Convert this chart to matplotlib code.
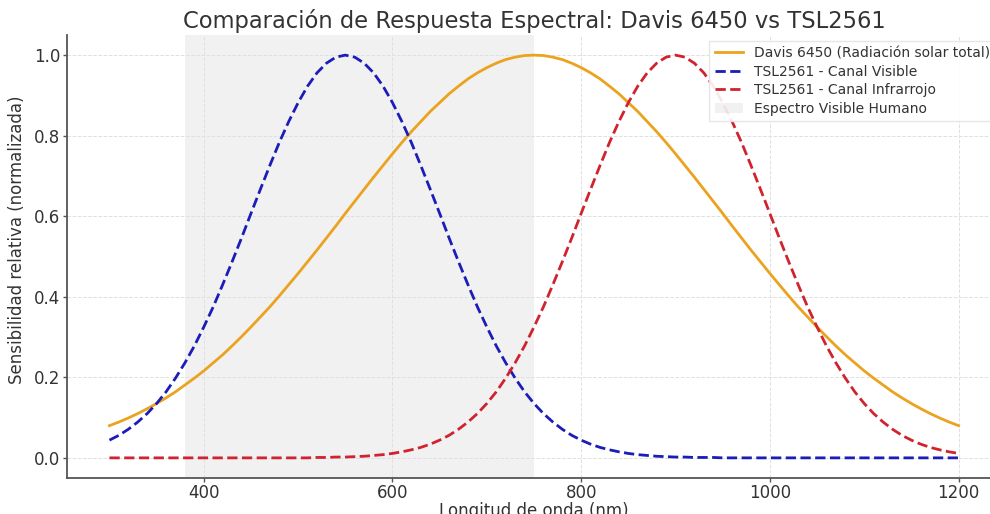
import matplotlib
matplotlib.use("Agg")
import matplotlib.pyplot as plt

# Wavelength grid (nm)
wavelength = list(range(300, 1201, 10))

# Davis 6450 pyranometer relative response (total solar radiation)
davis_half = [0.080, 0.089, 0.099, 0.110, 0.122, 0.135, 0.149, 0.164, 0.181, 0.198,
              0.216, 0.236, 0.256, 0.278, 0.301, 0.325, 0.350, 0.375, 0.402, 0.430,
              0.458, 0.487, 0.516, 0.546, 0.576, 0.607, 0.637, 0.667, 0.697, 0.726,
              0.755, 0.783, 0.810, 0.835, 0.860, 0.882, 0.904, 0.923, 0.941, 0.956,
              0.969, 0.980, 0.989, 0.995, 0.999]
davis_6450 = davis_half + [1.000] + davis_half[::-1]

# TSL2561 visible channel
tsl_visible = [0.044, 0.056, 0.071, 0.089, 0.110, 0.135, 0.164, 0.198, 0.236, 0.278,
               0.325, 0.375, 0.430, 0.487, 0.546, 0.607, 0.667, 0.726, 0.783, 0.835,
               0.882, 0.923, 0.956, 0.980, 0.995, 1.000,
               0.995, 0.980, 0.956, 0.923, 0.882, 0.835, 0.783, 0.726, 0.667, 0.607,
               0.546, 0.487, 0.430, 0.375, 0.325, 0.278, 0.236, 0.198, 0.164, 0.135,
               0.110, 0.089, 0.071, 0.056, 0.044, 0.034, 0.026, 0.020, 0.015, 0.011,
               0.008, 0.006, 0.004, 0.003, 0.002, 0.002, 0.001, 0.001, 0.001, 0.000,
               0.000, 0.000, 0.000, 0.000, 0.000, 0.000, 0.000, 0.000, 0.000, 0.000,
               0.000, 0.000, 0.000, 0.000, 0.000, 0.000, 0.000, 0.000, 0.000, 0.000,
               0.000, 0.000, 0.000, 0.000, 0.000]

# TSL2561 infrared channel
tsl_infrared = [0.000] * 20 + [
               0.000, 0.000, 0.001, 0.001, 0.002, 0.002, 0.003, 0.004, 0.006, 0.008,
               0.011, 0.015, 0.020, 0.026, 0.034, 0.044, 0.056, 0.071, 0.089, 0.110,
               0.135, 0.164, 0.198, 0.236, 0.278, 0.325, 0.375, 0.430, 0.487, 0.546,
               0.607, 0.667, 0.726, 0.783, 0.835, 0.882, 0.923, 0.956, 0.980, 0.995,
               1.000,
               0.995, 0.980, 0.956, 0.923, 0.882, 0.835, 0.783, 0.726, 0.667, 0.607,
               0.546, 0.487, 0.430, 0.375, 0.325, 0.278, 0.236, 0.198, 0.164, 0.135,
               0.110, 0.089, 0.071, 0.056, 0.044, 0.034, 0.026, 0.020, 0.015, 0.011]

visible_band = (380, 750)

x_ticks = [400, 600, 800, 1000, 1200]
y_ticks = [0.0, 0.2, 0.4, 0.6, 0.8, 1.0]

text_color = "#333333"
plt.rcParams["font.family"] = ["DejaVu Sans"]

fig = plt.figure(figsize=(9.9, 5.14), dpi=100)
ax = fig.add_axes([67 / 990, 36 / 514, (1001 - 67) / 990, (478 - 35) / 514])

ax.axvspan(*visible_band, color="lightgray", alpha=0.3, lw=0,
           label="Espectro Visible Humano", zorder=0)
ax.plot(wavelength, davis_6450, color="#eba31f", lw=2,
        label="Davis 6450 (Radiación solar total)")
ax.plot(wavelength, tsl_visible, color="#1c1cb8", lw=2, ls="--",
        label="TSL2561 - Canal Visible")
ax.plot(wavelength, tsl_infrared, color="#d0232e", lw=2, ls="--",
        label="TSL2561 - Canal Infrarrojo")

ax.set_xlim(255, 1245)
ax.set_ylim(-0.05, 1.05)
ax.set_xticks(x_ticks)
ax.set_yticks(y_ticks)
ax.tick_params(axis="both", labelsize=12, colors="#555555", labelcolor=text_color,
               length=3, width=1)
ax.tick_params(axis="x", pad=1)
ax.tick_params(axis="y", pad=2)

ax.grid(True, color="#e0e0e0", ls="--", lw=0.7)
ax.set_axisbelow(True)
for side in ("top", "right"):
    ax.spines[side].set_visible(False)
for side in ("left", "bottom"):
    ax.spines[side].set_color("#555555")
    ax.spines[side].set_linewidth(1.3)

ax.set_title("Comparación de Respuesta Espectral: Davis 6450 vs TSL2561",
             fontsize=16.3, color=text_color, pad=5)
ax.set_xlabel("Longitud de onda (nm)", fontsize=12, color=text_color, labelpad=0)
ax.set_ylabel("Sensibilidad relativa (normalizada)", fontsize=12, color=text_color)
ax.yaxis.set_label_coords(-0.044, 0.537)

handles, labels = ax.get_legend_handles_labels()
order = [1, 2, 3, 0]
leg = ax.legend([handles[i] for i in order], [labels[i] for i in order],
                loc="upper right", fontsize=10, frameon=True, fancybox=False,
                edgecolor="#e4e4e4", framealpha=0.9, labelcolor=text_color,
                labelspacing=0.33, borderaxespad=0.4)

fig.savefig("out.png", dpi=100)
